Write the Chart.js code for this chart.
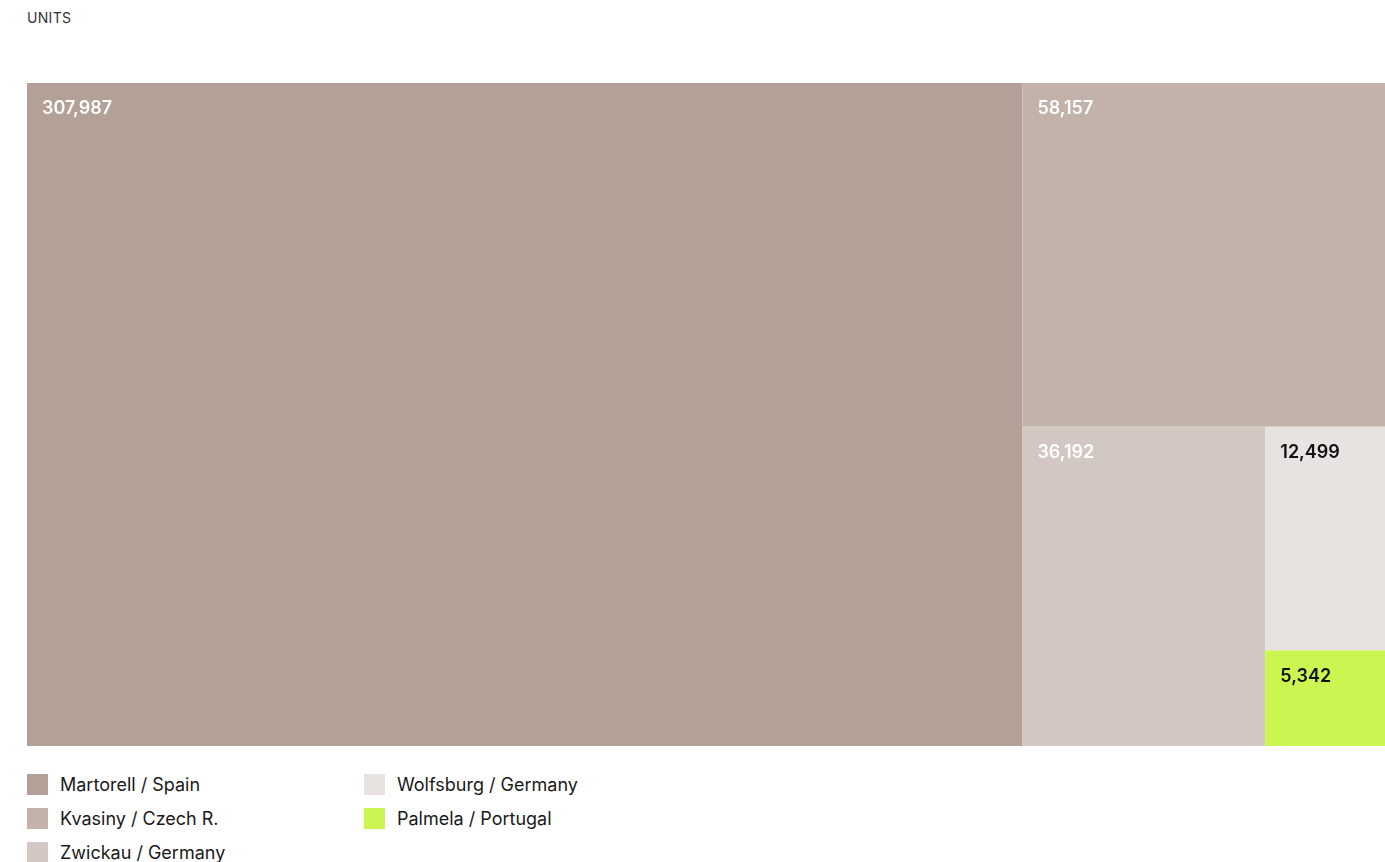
<!DOCTYPE html>
<html>
<head>
<meta charset="utf-8">
<script src="https://cdn.jsdelivr.net/npm/chart.js@4"></script>
<style>
    body { margin: 0; background: #fff; font-family: Inter, Lato, sans-serif; }
    #units { position: absolute; left: 27px; top: 9px; font-size: 14px; color: #333; letter-spacing: 0.3px; }
    #wrap { position: absolute; left: 0; top: 0; width: 1385px; height: 760px; }
    #legend { position: absolute; left: 27px; top: 772px; display: grid; grid-template-columns: 337px 300px; grid-auto-flow: column; grid-template-rows: repeat(3, 34px); }
    .item { display: flex; align-items: center; height: 24px; font-size: 18px; color: #1a1a1a; }
    .box { width: 21px; height: 21px; margin-right: 12px; }
</style>
</head>
<body>
<div id="units">UNITS</div>
<div id="wrap"><canvas id="chart"></canvas></div>
<div id="legend"></div>
<script>
const plants = ['Martorell / Spain', 'Kvasiny / Czech R.', 'Zwickau / Germany', 'Wolfsburg / Germany', 'Palmela / Portugal'];
const units = [307987, 58157, 36192, 12499, 5342];
const colors = ['#b3a198', '#c2b2aa', '#d3c7c3', '#e8e2e0', '#cbf551'];
const labelColors = ['#ffffff', '#ffffff', '#ffffff', '#111111', '#111111'];

// squarified layout, returns rects in units of w/h
function worst(row, side) {
    const s = row.reduce((a, b) => a + b, 0);
    const mx = Math.max(...row), mn = Math.min(...row);
    return Math.max(side * side * mx / (s * s), (s * s) / (side * side * mn));
}
function squarify(values, w, h) {
    const total = values.reduce((a, b) => a + b, 0);
    const areas = values.map(v => v / total * w * h);
    const rects = [];
    let x = 0, y = 0, i = 0;
    while (i < areas.length) {
        const side = Math.min(w, h);
        let row = [areas[i]];
        let j = i + 1;
        while (j < areas.length && worst(row.concat(areas[j]), side) <= worst(row, side)) {
            row.push(areas[j]); j++;
        }
        const sum = row.reduce((a, b) => a + b, 0);
        if (w >= h) {
            const rw = sum / h; let yy = y;
            row.forEach(a => { const rh = a / rw; rects.push({ x, y: yy, w: rw, h: rh }); yy += rh; });
            x += rw; w -= rw;
        } else {
            const rh = sum / w; let xx = x;
            row.forEach(a => { const rw = a / rh; rects.push({ x: xx, y, w: rw, h: rh }); xx += rw; });
            y += rh; h -= rh;
        }
        i = j;
    }
    return rects;
}

const treemapPlugin = {
    id: 'treemap',
    beforeDatasetsDraw(chart) {
        const { ctx, chartArea, scales } = chart;
        const W = chartArea.width, H = chartArea.height;
        const rects = squarify(units, W, H);
        ctx.save();
        rects.forEach((r, i) => {
            const x0 = scales.x.getPixelForValue(r.x / W);
            const x1 = scales.x.getPixelForValue((r.x + r.w) / W);
            const y0 = scales.y.getPixelForValue(r.y / H);
            const y1 = scales.y.getPixelForValue((r.y + r.h) / H);
            ctx.fillStyle = colors[i];
            ctx.fillRect(x0, y0, x1 - x0, y1 - y0);
            ctx.fillStyle = labelColors[i];
            ctx.font = '600 18px Inter, Lato, sans-serif';
            ctx.textBaseline = 'middle';
            ctx.fillText(units[i].toLocaleString('en-US'), x0 + 15, y0 + 26);
        });
        ctx.restore();
    }
};

new Chart(document.getElementById('chart'), {
    type: 'scatter',
    data: { labels: plants, datasets: [{ data: [], pointRadius: 0 }] },
    options: {
        responsive: true,
        maintainAspectRatio: false,
        animation: false,
        layout: { padding: { left: 27, top: 83, right: 0, bottom: 14 } },
        scales: {
            x: { display: false, min: 0, max: 1 },
            y: { display: false, min: 0, max: 1, reverse: true }
        },
        plugins: { legend: { display: false }, tooltip: { enabled: false } }
    },
    plugins: [treemapPlugin]
});

const legend = document.getElementById('legend');
plants.forEach((p, i) => {
    const d = document.createElement('div');
    d.className = 'item';
    d.innerHTML = '<span class="box" style="background:' + colors[i] + '"></span>' + p;
    legend.appendChild(d);
});
</script>
</body>
</html>
